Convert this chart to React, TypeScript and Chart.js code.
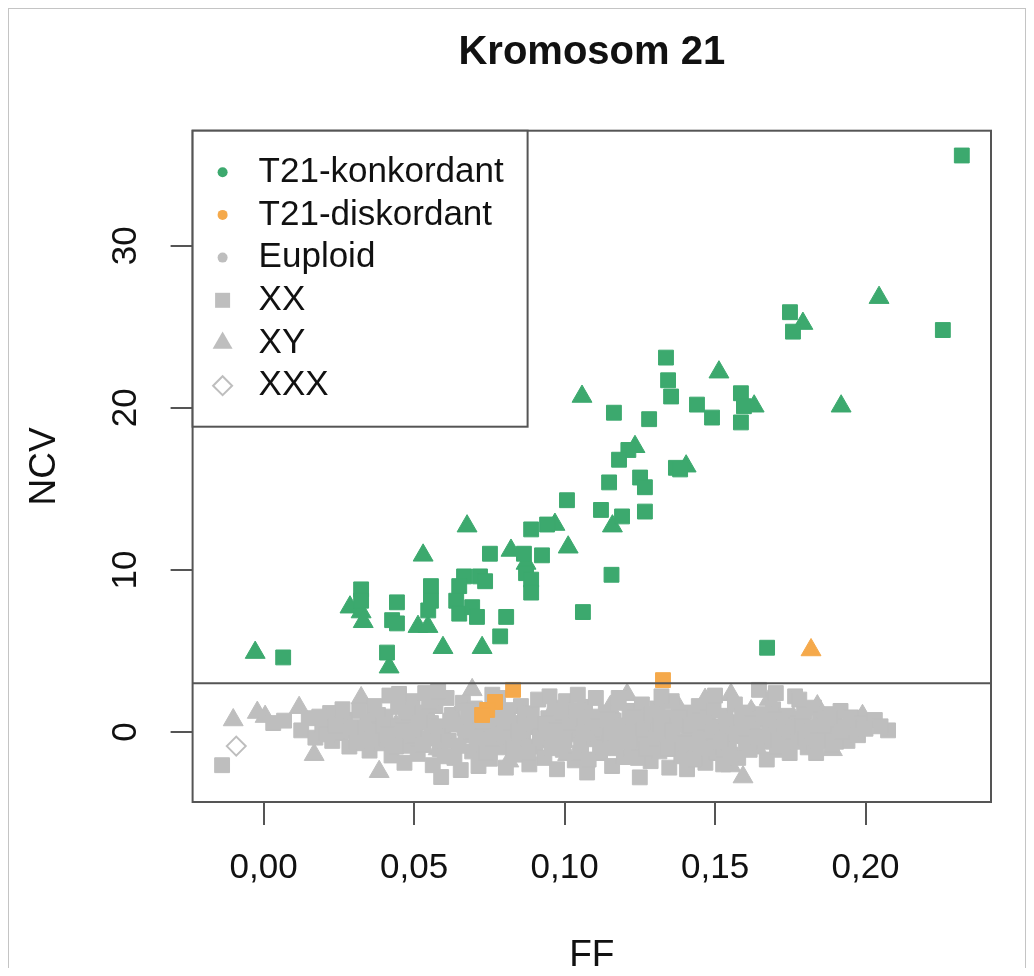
import React, { useEffect, useRef } from 'react';
import { Chart, registerables } from 'chart.js';

Chart.register(...registerables);

// ---------- text ----------
const TITLE = 'Kromosom 21';
const X_LABEL = 'FF';
const Y_LABEL = 'NCV';
const LEGEND_LABELS = ['T21-konkordant', 'T21-diskordant', 'Euploid', 'XX', 'XY', 'XXX'];

// ---------- axes ----------
const X_TICKS = [0, 0.05, 0.1, 0.15, 0.2];
const Y_TICKS = [0, 10, 20, 30];
const X_RANGE = [-0.0236, 0.2417];
const Y_RANGE = [-4.32, 37.1];
const THRESHOLD = 3;

// ---------- data: [FF, NCV] ----------
const T21_KONK_XX: [number, number][] = [
  [0.2320, 35.57], [0.2257, 24.8], [0.1749, 25.9], [0.1759, 24.7], [0.1337, 23.1],
  [0.1344, 21.7], [0.1354, 20.7], [0.1440, 20.2], [0.1490, 19.4], [0.1586, 20.9],
  [0.1596, 20.1], [0.1586, 19.1], [0.1164, 19.7], [0.1281, 19.3], [0.1212, 17.4],
  [0.1181, 16.8], [0.1148, 15.4], [0.1251, 15.7], [0.1267, 15.1], [0.1370, 16.3],
  [0.1384, 16.2], [0.1008, 14.3], [0.1121, 13.7], [0.1191, 13.3], [0.1267, 13.6],
  [0.0889, 12.5], [0.0942, 12.8], [0.0752, 11.0], [0.0865, 11.0], [0.0925, 10.9],
  [0.0872, 9.8], [0.0889, 9.4], [0.0889, 8.6], [0.0666, 9.6], [0.0719, 9.6],
  [0.0736, 9.3], [0.0650, 9.0], [0.0640, 8.1], [0.0650, 7.3], [0.0693, 7.7],
  [0.0709, 7.1], [0.0556, 9.0], [0.0556, 8.1], [0.0547, 7.5], [0.0324, 8.8],
  [0.0324, 8.1], [0.0443, 8.0], [0.0427, 6.9], [0.0443, 6.7], [0.0806, 7.1],
  [0.0786, 5.9], [0.1156, 9.7], [0.1061, 7.4], [0.0065, 4.6], [0.0410, 4.9],
  [0.1673, 5.2],
];
const T21_KONK_XY: [number, number][] = [
  [0.2045, 26.8], [0.1792, 25.2], [0.1513, 22.2], [0.1630, 20.1], [0.1919, 20.1],
  [0.1058, 20.7], [0.1234, 17.6], [0.1404, 16.4], [0.1159, 12.7], [0.0676, 12.7],
  [0.0968, 12.8], [0.1012, 11.4], [0.0530, 10.9], [0.0822, 11.2], [0.0872, 10.4],
  [0.0287, 7.7], [0.0324, 7.4], [0.0331, 6.8], [0.0513, 6.5], [0.0546, 6.5],
  [0.0596, 5.2], [0.0726, 5.2], [-0.0028, 4.9], [0.0417, 4.0],
];
const T21_DISK_XX: [number, number][] = [
  [0.1327, 3.2], [0.0829, 2.6], [0.0769, 1.85], [0.0743, 1.36], [0.0726, 1.05],
];
const T21_DISK_XY: [number, number][] = [[0.1819, 5.06]];
const EUPLOID_XX: [number, number][] = [
  [-0.0138, -2.05], [0.0032, 0.55], [0.0068, 0.7], [0.0125, 0.1], [0.0150, 0.85],
  [0.0172, -0.35], [0.0195, 0.45], [0.0221, 1.17], [0.0228, -0.55], [0.0254, -0.06],
  [0.0270, 0.75], [0.0285, -0.9], [0.0302, 0.3], [0.0318, 1.3], [0.0330, -0.35],
  [0.0345, 0.65], [0.0352, -1.15], [0.0368, 1.6], [0.0375, 0.1], [0.0392, -0.7],
  [0.0405, 0.95], [0.0418, 2.25], [0.0425, -1.45], [0.0433, 0.35], [0.0447, 1.55],
  [0.0455, -0.35], [0.0468, -1.9], [0.0472, 0.8], [0.0488, -0.85], [0.0495, 1.9],
  [0.0503, 0.15], [0.0512, -1.35], [0.0524, 1.2], [0.0537, 2.4], [0.0541, -0.4],
  [0.0556, 0.55], [0.0562, -2.05], [0.0571, 1.6], [0.0585, -1.05], [0.0590, -2.78],
  [0.0597, 0.2], [0.0608, 2.1], [0.0615, -0.55], [0.0626, 1.05], [0.0634, -1.6],
  [0.0641, 0.45], [0.0655, -2.35], [0.0662, 1.8], [0.0671, -0.2], [0.0684, 0.9],
  [0.0693, -1.2], [0.0702, 1.45], [0.0714, -2.1], [0.0720, 0.1], [0.0733, -0.75],
  [0.0745, 0.6], [0.0752, -1.65], [0.0768, 0.05], [0.0779, 2.1], [0.0786, -0.95],
  [0.0794, 0.75], [0.0805, -2.2], [0.0812, 1.35], [0.0823, -0.3], [0.0836, 0.5],
  [0.0841, -1.4], [0.0855, 1.6], [0.0862, -0.55], [0.0875, 0.3], [0.0883, -2.0],
  [0.0891, 1.15], [0.0904, -0.9], [0.0912, 2.0], [0.0925, 0.0], [0.0933, -1.6],
  [0.0946, 0.85], [0.0952, -0.35], [0.0967, 1.5], [0.0975, -2.3], [0.0983, 0.4],
  [0.0994, -1.1], [0.1005, 1.9], [0.1012, -0.15], [0.1026, 0.95], [0.1034, -1.75],
  [0.1047, 0.25], [0.1055, -0.8], [0.1068, 1.55], [0.1075, -2.5], [0.1083, 0.6],
  [0.1096, -0.45], [0.1104, 2.1], [0.1118, -1.3], [0.1125, 0.15], [0.1137, 1.2],
  [0.1146, -0.7], [0.1158, -2.1], [0.1163, 0.7], [0.1176, 1.8], [0.1185, -0.2],
  [0.1197, -1.55], [0.1205, 0.4], [0.1216, 1.3], [0.1224, -0.95], [0.1238, 0.0],
  [0.1250, -2.8], [0.1257, 1.7], [0.1265, -0.5], [0.1278, 0.8], [0.1286, -1.8],
  [0.1297, 0.3], [0.1308, 1.45], [0.1315, -1.2], [0.1327, -0.1], [0.1336, 0.95],
  [0.1348, -2.2], [0.1356, 1.9], [0.1367, -0.6], [0.1375, 0.45], [0.1388, -1.5],
  [0.1396, 1.2], [0.1407, -2.3], [0.1412, -0.15], [0.1425, 0.7], [0.1437, -1.0],
  [0.1446, 1.6], [0.1455, 0.1], [0.1468, -1.9], [0.1474, 0.9], [0.1487, -0.45],
  [0.1495, 1.35], [0.1506, -1.3], [0.1514, 0.35], [0.1527, -2.0], [0.1535, 1.0],
  [0.1546, -0.7], [0.1558, 0.15], [0.1566, 1.7], [0.1577, -1.6], [0.1585, 0.55],
  [0.1596, -0.25], [0.1608, 1.2], [0.1615, -1.1], [0.1627, 0.0], [0.1646, 2.6],
  [0.1652, 0.8], [0.1664, -0.6], [0.1672, -1.7], [0.1685, 0.4], [0.1693, 1.4],
  [0.1706, -0.9], [0.1718, 0.1], [0.1725, -0.4], [0.1737, 1.0], [0.1748, -1.3],
  [0.1766, 2.2], [0.1772, 0.5], [0.1785, -0.2], [0.1796, 1.25], [0.1808, -0.95],
  [0.1816, 0.3], [0.1829, 1.5], [0.1836, -1.3], [0.1848, 0.75], [0.1857, -0.3],
  [0.1869, 1.1], [0.1877, 0.1], [0.1888, -0.8], [0.1896, 0.6], [0.1908, -0.15],
  [0.1917, 1.3], [0.1928, 0.35], [0.1940, -0.55], [0.1952, 0.9], [0.1966, 0.0],
  [0.1985, 0.5], [0.2031, 0.74], [0.2075, 0.1],
  [0.0185, 0.95], [0.0210, -0.15], [0.0240, 0.4], [0.0262, 1.4], [0.0292, 0.05],
  [0.0310, -0.6], [0.0338, 0.25], [0.0360, -0.45], [0.0380, 1.05], [0.0398, 0.4],
  [0.0412, -0.15], [0.0440, -0.9], [0.0450, 2.35], [0.0462, 0.1], [0.0480, 1.2],
  [0.0498, -0.25], [0.0518, 0.6], [0.0530, -0.8], [0.0550, 1.85], [0.0566, -0.2],
  [0.0578, 0.35], [0.0580, 2.5], [0.0602, -1.5], [0.0620, 0.7], [0.0648, -0.85],
  [0.0668, 0.25], [0.0678, 1.3], [0.0690, 0.0], [0.0708, -0.45], [0.0726, 0.65],
  [0.0740, -1.3], [0.0758, -0.4], [0.0760, 2.3], [0.0775, 0.95], [0.0798, -0.1],
  [0.0818, 0.55], [0.0830, -1.0], [0.0848, 0.05], [0.0868, 1.0], [0.0880, -1.3],
  [0.0897, 0.45], [0.0918, -0.3], [0.0938, 0.5], [0.0950, 2.2], [0.0958, -1.0],
  [0.0972, 0.1], [0.0990, 1.2], [0.1000, -0.5], [0.1018, 0.55], [0.1040, 1.35],
  [0.1044, 2.3], [0.1050, -1.3], [0.1062, -0.1], [0.1080, -1.7], [0.1090, 0.95],
  [0.1110, 0.35], [0.1130, -0.95], [0.1142, 0.75], [0.1152, -0.2], [0.1170, -1.0],
  [0.1180, 2.1], [0.1190, 0.3], [0.1210, -0.6], [0.1230, 0.9], [0.1244, -1.6],
  [0.1262, 0.15], [0.1272, -1.05], [0.1290, 1.1], [0.1303, -0.4], [0.1320, 0.45],
  [0.1322, 2.2], [0.1342, -1.05], [0.1360, 0.1], [0.1382, 0.9], [0.1400, -0.7],
  [0.1418, 0.4], [0.1432, -1.7], [0.1450, -0.5], [0.1462, 0.55], [0.1480, -1.0],
  [0.1492, 0.0], [0.1500, 2.25], [0.1520, -0.6], [0.1540, 0.6], [0.1552, -1.4],
  [0.1572, -0.1], [0.1590, 0.95], [0.1602, -0.7], [0.1622, 0.5], [0.1640, -0.3],
  [0.1660, 1.1], [0.1678, -0.1], [0.1700, 0.75], [0.1702, 2.4], [0.1712, -0.5],
  [0.1730, 0.3], [0.1745, -0.75], [0.1758, 0.0], [0.1778, -0.6], [0.1780, 2.0],
  [0.1790, 0.35], [0.1802, -0.35], [0.1822, 0.05], [0.1842, -0.55], [0.1862, 0.4],
  [0.1882, 0.85], [0.1902, -0.6], [0.1922, 0.0], [0.1945, 0.3], [0.1975, -0.2],
  [0.2000, 0.2], [0.2050, 0.35],
];
const EUPLOID_XY: [number, number][] = [
  [-0.0101, 0.74], [-0.0021, 1.2], [0.0005, 0.95], [0.0118, 1.5], [0.0168, -1.4],
  [0.0255, 0.55], [0.0324, 2.1], [0.0340, -0.8], [0.0384, -2.45], [0.0440, 0.4],
  [0.0502, -0.5], [0.0548, 1.0], [0.0580, -1.05], [0.0635, 0.9], [0.0693, 2.6],
  [0.0732, -0.3], [0.0761, 1.25], [0.0815, -1.8], [0.0870, 0.7], [0.0918, -0.6],
  [0.0960, 1.3], [0.1010, -1.4], [0.1060, 0.5], [0.1110, -0.2], [0.1150, 1.5],
  [0.1208, 2.3], [0.1240, -1.2], [0.1290, 0.9], [0.1330, -0.4], [0.1380, 1.5],
  [0.1430, -1.6], [0.1467, 2.0], [0.1500, 0.2], [0.1553, 2.3], [0.1553, -2.1],
  [0.1593, -2.78], [0.1620, 1.3], [0.1680, 2.0], [0.1640, -1.0], [0.1716, -1.2],
  [0.1760, 0.9], [0.1800, -0.5], [0.1840, 1.6], [0.1890, -1.1], [0.1955, 0.55],
  [0.1990, 1.0],
];
const EUPLOID_XXX: [number, number][] = [[-0.0091, -0.87]];

// ---------- styles ----------
const GREEN = '#3ca96e';
const ORANGE = '#f5a94b';
const GRAY = '#bebebe';
const AXIS_COLOR = '#555555';
const TEXT_COLOR = '#111111';
const FONT = '"Liberation Sans", Arial, Helvetica, sans-serif';
const LEGEND_SHAPES = ['dot', 'dot', 'dot', 'rect', 'triangle', 'diamond'];
const LEGEND_COLORS = [GREEN, ORANGE, GRAY, GRAY, GRAY, GRAY];

const toPts = (arr: [number, number][]) => arr.map(([x, y]) => ({ x, y }));

function sqDs(label: string, arr: [number, number][], color: string, order: number) {
  return {
    label, data: toPts(arr), pointStyle: 'rect', pointRadius: 10.5, borderWidth: 1,
    backgroundColor: color, borderColor: color, order,
  };
}
function triDs(label: string, arr: [number, number][], color: string, order: number) {
  return {
    label, data: toPts(arr), pointStyle: 'triangle', pointRadius: 11.5, borderWidth: 1,
    backgroundColor: color, borderColor: color, order,
  };
}

function drawMarker(ctx: CanvasRenderingContext2D, shape: string, color: string, cx: number, cy: number) {
  ctx.fillStyle = color;
  ctx.strokeStyle = color;
  ctx.beginPath();
  if (shape === 'dot') {
    ctx.arc(cx, cy, 5, 0, Math.PI * 2);
    ctx.fill();
  } else if (shape === 'rect') {
    ctx.rect(cx - 7.5, cy - 7.5, 15, 15);
    ctx.fill();
  } else if (shape === 'triangle') {
    const r = 11.5;
    ctx.moveTo(cx, cy - r);
    ctx.lineTo(cx + r * 0.866, cy + r / 2);
    ctx.lineTo(cx - r * 0.866, cy + r / 2);
    ctx.closePath();
    ctx.fill();
  } else {
    const r = 9.5;
    ctx.moveTo(cx - r, cy);
    ctx.lineTo(cx, cy - r);
    ctx.lineTo(cx + r, cy);
    ctx.lineTo(cx, cy + r);
    ctx.closePath();
    ctx.lineWidth = 2;
    ctx.stroke();
  }
}

const framePlugin = {
  id: 'rFrame',
  afterDatasetsDraw(chart: any) {
    const { ctx, chartArea, scales } = chart;
    const yT = scales.y.getPixelForValue(THRESHOLD);
    ctx.save();
    ctx.strokeStyle = AXIS_COLOR;
    ctx.lineWidth = 2;
    ctx.beginPath();
    ctx.moveTo(chartArea.left, yT);
    ctx.lineTo(chartArea.right, yT);
    ctx.stroke();
    ctx.strokeRect(chartArea.left, chartArea.top, chartArea.right - chartArea.left, chartArea.bottom - chartArea.top);
    ctx.restore();
  },
  afterDraw(chart: any) {
    const { ctx, chartArea } = chart;
    const x0 = chartArea.left;
    const y0 = chartArea.top;
    const w = 335;
    const h = 296;
    ctx.save();
    ctx.fillStyle = '#ffffff';
    ctx.fillRect(x0, y0, w, h);
    ctx.strokeStyle = AXIS_COLOR;
    ctx.lineWidth = 2;
    ctx.strokeRect(x0, y0, w, h);
    LEGEND_LABELS.forEach((label, i) => {
      const cy = y0 + 41.5 + i * 42.7;
      drawMarker(ctx, LEGEND_SHAPES[i], LEGEND_COLORS[i], x0 + 30, cy);
      ctx.fillStyle = TEXT_COLOR;
      ctx.font = `35px ${FONT}`;
      ctx.textAlign = 'left';
      ctx.textBaseline = 'middle';
      ctx.fillText(label, x0 + 66, cy);
    });
    ctx.restore();
  },
};

export default function App() {
  const ref = useRef<HTMLCanvasElement>(null);
  useEffect(() => {
    const datasets: any[] = [
      sqDs('T21-konkordant XX', T21_KONK_XX, GREEN, 1),
      triDs('T21-konkordant XY', T21_KONK_XY, GREEN, 1),
      sqDs('T21-diskordant XX', T21_DISK_XX, ORANGE, 2),
      triDs('T21-diskordant XY', T21_DISK_XY, ORANGE, 2),
      sqDs('Euploid XX', EUPLOID_XX, GRAY, 3),
      triDs('Euploid XY', EUPLOID_XY, GRAY, 3),
      {
        label: 'Euploid XXX', data: toPts(EUPLOID_XXX), pointStyle: 'rectRot', pointRadius: 9.5,
        borderWidth: 2, backgroundColor: 'rgba(255,255,255,0)', borderColor: GRAY, order: 3,
      },
    ];
    const tickFont = { family: FONT, size: 35 };
    const chart = new Chart(ref.current as HTMLCanvasElement, {
      type: 'scatter',
      data: { datasets },
      options: {
        animation: false,
        responsive: false,
        devicePixelRatio: 1,
        events: [],
        layout: { padding: { left: 0, right: 34, top: 0, bottom: 0 } },
        plugins: {
          legend: { display: false },
          tooltip: { enabled: false },
          title: {
            display: true,
            text: TITLE,
            fullSize: false,
            color: TEXT_COLOR,
            font: { family: FONT, size: 40, weight: 'bold', lineHeight: 1.2 },
            padding: { top: 19.5, bottom: 54.2 },
          },
        },
        scales: {
          x: {
            type: 'linear',
            min: X_RANGE[0],
            max: X_RANGE[1],
            afterBuildTicks: (s: any) => { s.ticks = X_TICKS.map((v) => ({ value: v })); },
            afterFit: (s: any) => { s.height = 166; },
            grid: { display: true, drawOnChartArea: false, drawTicks: true, tickLength: 23, color: AXIS_COLOR, lineWidth: 2 },
            border: { display: false },
            ticks: {
              autoSkip: false, maxRotation: 0, minRotation: 0, padding: 22, color: TEXT_COLOR, font: tickFont,
              callback: (v: any) => Number(v).toFixed(2).replace('.', ','),
            },
            title: {
              display: true, text: X_LABEL, color: TEXT_COLOR,
              font: { family: FONT, size: 37, lineHeight: 0.6 },
              padding: { top: 0, bottom: 1.5 },
            },
          },
          y: {
            type: 'linear',
            min: Y_RANGE[0],
            max: Y_RANGE[1],
            afterBuildTicks: (s: any) => { s.ticks = Y_TICKS.map((v) => ({ value: v })); },
            afterFit: (s: any) => { s.width = 183.6; },
            grid: { display: true, drawOnChartArea: false, drawTicks: true, tickLength: 22, color: AXIS_COLOR, lineWidth: 2 },
            border: { display: false },
            ticks: {
              autoSkip: false, minRotation: 90, maxRotation: 90, crossAlign: 'center', padding: 24.5,
              color: TEXT_COLOR, font: tickFont,
              callback: (v: any) => String(v),
            },
            title: {
              display: true, text: Y_LABEL, color: TEXT_COLOR,
              font: { family: FONT, size: 37, lineHeight: 1.2 },
              padding: { top: 13.5, bottom: 0 },
            },
          },
        },
      },
      plugins: [framePlugin],
    } as any);
    return () => chart.destroy();
  }, []);

  return (
    <div
      style={{
        width: 1018,
        height: 960,
        boxSizing: 'border-box',
        borderTop: '1px solid #c4c4c4',
        borderLeft: '1px solid #c4c4c4',
        borderRight: '1px solid #c4c4c4',
        background: '#ffffff',
      }}
    >
      <canvas ref={ref} width={1016} height={959} style={{ display: 'block', width: 1016, height: 959 }} />
    </div>
  );
}
